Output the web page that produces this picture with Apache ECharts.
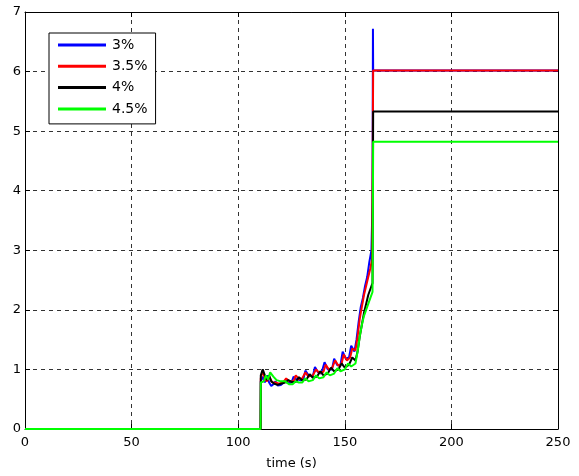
<!DOCTYPE html>
<html><head><meta charset="utf-8">
<script src="https://cdn.jsdelivr.net/npm/echarts@6/dist/echarts.min.js"></script>
<style>html,body{margin:0;padding:0;background:#fff}#c{width:579px;height:476px}</style>
</head><body><div id="c"></div>
<script>
var seriesNames = ['3%', '3.5%', '4%', '4.5%'];
var seriesColors = ['#0000ff', '#ff0000', '#000000', '#00ff00'];
var xTicks = [0, 50, 100, 150, 200, 250];
var yTicks = [0, 1, 2, 3, 4, 5, 6, 7];
var xLabel = 'time (s)';

var s3 = [[0,0],[110.5,0],[110.6,0.8],[111.5,0.88],[112.5,0.78],[113.5,0.9],[114.5,0.78],[115.5,0.72],[116.5,0.75],[117.5,0.8],[118.5,0.73],[120,0.74],[122,0.8],[123.5,0.77],[125,0.78],[126,0.88],[127,0.84],[129,0.82],[130.5,0.82],[131.5,0.98],[133,0.9],[135,0.88],[136,1.04],[137.5,0.95],[139,0.93],[140.5,1.12],[142,1.0],[144,1.0],[145,1.18],[146.5,1.07],[148,1.08],[149,1.3],[150.5,1.18],[152,1.2],[153,1.4],[154.5,1.3],[155.5,1.5],[156.5,1.8],[157.5,2.05],[158.5,2.2],[159.5,2.4],[160.5,2.55],[161.5,2.8],[162.5,3.0],[163,3.8],[163.2,6.72],[163.3,6.02],[250,6.02]];
var s35 = [[0,0],[110.5,0],[110.6,0.85],[111.5,0.98],[112.5,0.85],[113.5,0.8],[114.5,0.88],[116,0.78],[117.5,0.78],[119,0.76],[121,0.78],[122.5,0.85],[124,0.8],[126,0.8],[127,0.9],[128.5,0.84],[130,0.85],[131.5,0.95],[133,0.88],[135,0.9],[136.5,1.0],[138,0.94],[140,0.96],[141,1.08],[142.5,1.0],[144,1.02],[145.5,1.15],[147,1.06],[148.5,1.1],[149.5,1.25],[151,1.15],[152.5,1.2],[153.5,1.35],[155,1.32],[156,1.55],[157,1.85],[158,2.05],[159,2.25],[160,2.4],[161,2.55],[162,2.7],[162.8,2.85],[163.3,6.02],[250,6.02]];
var s4 = [[0,0],[110.5,0],[110.6,0.9],[111.5,1.0],[112.5,0.9],[113.5,0.82],[114.5,0.9],[115.5,0.8],[117,0.76],[118.5,0.74],[120,0.76],[122,0.78],[123.5,0.82],[125,0.79],[127,0.79],[128.5,0.87],[130,0.82],[132,0.83],[133.5,0.92],[135,0.86],[137,0.88],[138.5,0.97],[140,0.9],[142,0.93],[143.5,1.03],[145,0.97],[147,1.0],[148.5,1.1],[150,1.03],[152,1.08],[153.5,1.2],[155,1.15],[156,1.3],[157,1.55],[158,1.75],[159,1.95],[160,2.1],[161,2.25],[162,2.35],[163,2.45],[163.3,5.33],[250,5.33]];
var s45 = [[0,0],[110.5,0],[110.6,0.78],[112,0.8],[113,0.9],[114,0.83],[115,0.95],[116.5,0.88],[118,0.82],[120,0.8],[122,0.8],[124,0.75],[125.5,0.75],[127,0.8],[128.5,0.78],[130,0.78],[131.5,0.85],[133,0.8],[135,0.82],[136.5,0.9],[138,0.85],[140,0.87],[141.5,0.95],[143,0.9],[145,0.93],[146.5,1.02],[148,0.97],[150,1.0],[151.5,1.1],[153,1.05],[155,1.1],[156,1.3],[157,1.55],[158,1.75],[159,1.9],[160,2.0],[161,2.1],[162,2.2],[163,2.3],[163.3,4.82],[250,4.82]];
var allData = [s3, s35, s4, s45];

var FONT = '"DejaVu Sans", "Liberation Sans", Arial, sans-serif';
var chart = echarts.init(document.getElementById('c'), null, {renderer: 'canvas'});
var gridLine = {show: true, lineStyle: {color: '#333', width: 1, type: [4, 4]}};
var axisLineStyle = {show: true, onZero: false, lineStyle: {color: '#000', width: 1}};
var tickStyle = {show: true, inside: true, length: 5, lineStyle: {color: '#000'}};

chart.setOption({
  animation: false,
  backgroundColor: '#fff',
  grid: {left: 25, right: 21, top: 12, bottom: 47, containLabel: false},
  legend: {
    data: seriesNames,
    orient: 'vertical',
    left: 49, top: 33,
    backgroundColor: '#fff',
    borderColor: '#000', borderWidth: 1,
    padding: [4, 8, 7, 9],
    itemGap: 5.3,
    itemWidth: 48, itemHeight: 3,
    icon: 'rect',
    textStyle: {fontFamily: FONT, fontSize: 14, color: '#000', lineHeight: 16, padding: [0, 0, 0, 1]}
  },
  xAxis: [{
    type: 'value', min: xTicks[0], max: xTicks[xTicks.length - 1], interval: 50,
    name: xLabel, nameLocation: 'middle', nameGap: 28,
    nameTextStyle: {fontFamily: FONT, fontSize: 13, color: '#000'},
    axisLine: axisLineStyle, axisTick: tickStyle,
    axisLabel: {fontFamily: FONT, fontSize: 13, color: '#000', margin: 7},
    splitLine: gridLine
  }, {
    type: 'value', position: 'top', min: xTicks[0], max: xTicks[xTicks.length - 1], interval: 50,
    axisLine: axisLineStyle, axisTick: tickStyle, axisLabel: {show: false}, splitLine: {show: false}
  }],
  yAxis: [{
    type: 'value', min: yTicks[0], max: yTicks[yTicks.length - 1], interval: 1,
    axisLine: axisLineStyle, axisTick: tickStyle,
    axisLabel: {fontFamily: FONT, fontSize: 13, color: '#000', margin: 4},
    splitLine: gridLine
  }, {
    type: 'value', position: 'right', min: yTicks[0], max: yTicks[yTicks.length - 1], interval: 1,
    axisLine: axisLineStyle, axisTick: tickStyle, axisLabel: {show: false}, splitLine: {show: false}
  }],
  series: seriesNames.map(function (n, i) {
    return {
      name: n, type: 'line', data: allData[i], xAxisIndex: 0, yAxisIndex: 0,
      showSymbol: false, symbol: 'none',
      lineStyle: {color: seriesColors[i], width: 2},
      itemStyle: {color: seriesColors[i]},
      z: 2 + i
    };
  })
});
</script></body></html>
